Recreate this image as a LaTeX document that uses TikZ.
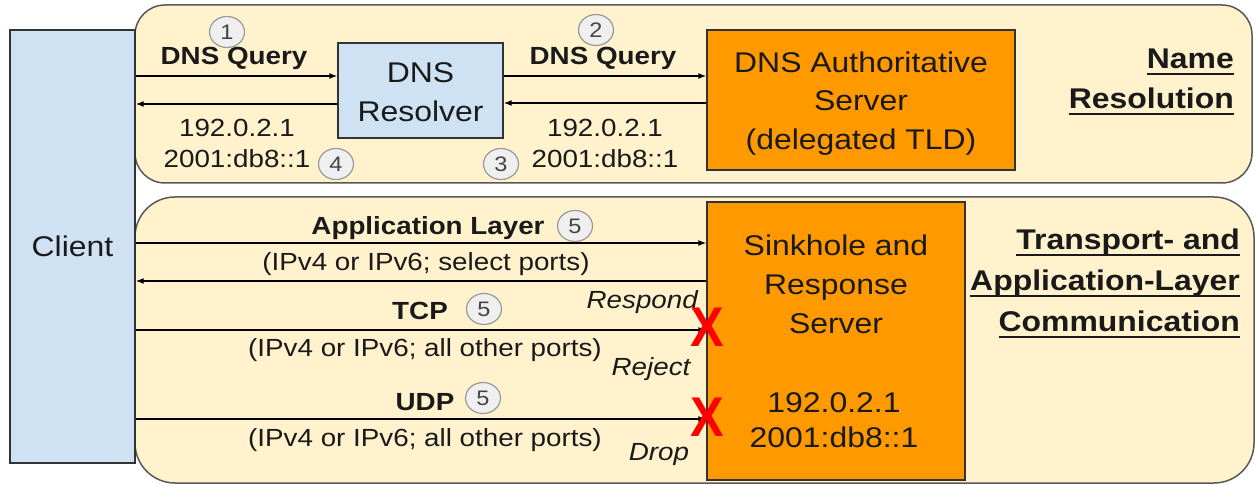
\documentclass[tikz,border=0pt]{standalone}
\usepackage{fontspec}
\setmainfont{Liberation Sans}[FakeStretch=1.12]
\newfontfamily\xmarkfont{Liberation Sans}[FakeStretch=0.9]
\newsavebox\myulbox
\newcommand\myul[1]{\sbox\myulbox{#1}\rlap{\rule[-6.4pt]{\wd\myulbox}{1.8pt}}\usebox\myulbox}
\usetikzlibrary{arrows.meta,shapes.geometric}
\definecolor{panelfill}{HTML}{FFF2CC}
\definecolor{panelline}{HTML}{595959}
\definecolor{boxline}{HTML}{333333}
\definecolor{lblue}{HTML}{CFE2F3}
\definecolor{orangefill}{HTML}{FF9900}
\definecolor{txt}{HTML}{1A1A1A}
\definecolor{numfill}{HTML}{EFEFEF}
\definecolor{numline}{HTML}{999999}
\definecolor{numtxt}{HTML}{444444}
\newcommand\boxfnt{\fontsize{28.5}{38.5}\selectfont}
\newcommand\lblfnt{\fontsize{24.8}{31.3}\selectfont}
\newcommand\numfnt{\fontsize{21}{21}\selectfont}
\newcommand\ttlfnt{\fontsize{28.5}{40}\selectfont\bfseries}
\begin{document}
\begin{tikzpicture}[x=1pt,y=-1pt,
  panel/.style={draw=panelline, fill=panelfill, line width=1.5pt},
  boxnode/.style={draw=boxline, line width=1.3pt, inner sep=0pt, font=\boxfnt, text=txt, align=center},
  boxtxt/.style={inner sep=0pt, font=\boxfnt, text=txt, align=center},
  lbl/.style={inner sep=0pt, font=\lblfnt, text=txt, align=center},
  blbl/.style={lbl, font=\lblfnt\bfseries},
  ilbl/.style={lbl, font=\lblfnt\itshape},
  ttl/.style={inner sep=0pt, font=\ttlfnt, text=txt, align=right},
  arr/.style={line width=1.4pt, -{Latex[length=8pt,width=6pt]}},
  num/.style={ellipse, draw=numline, fill=numfill, line width=1.2pt, minimum width=35pt, minimum height=31pt, inner sep=0pt, font=\numfnt, text=numtxt},
  xmark/.style={inner sep=0pt, text=red, font=\xmarkfont\bfseries\fontsize{56}{56}\selectfont}
]
\useasboundingbox (0,0) rectangle (1255,486);
\fill[white] (0,0) rectangle (1255,486);

% panels
\draw[panel, rounded corners=30pt] (135,5) rectangle (1252,183);
\draw[panel, rounded corners=40pt] (135,197) rectangle (1254,483);

% boxes
\node[boxnode, fill=lblue, minimum width=125pt, minimum height=433pt] (client) at (72.5,246.5) {Client};
\node[boxnode, fill=lblue, minimum width=165pt, minimum height=95pt] (res) at (420.5,90.5) {};
\node[boxtxt] (restxt) at (420.5,92) {DNS\\Resolver};
\node[boxnode, fill=orangefill, minimum width=308pt, minimum height=140pt] (auth) at (861,100) {};
\node[boxtxt] (authtxt) at (861,103.5) {DNS Authoritative\\Server\\(delegated TLD)};
\node[boxnode, fill=orangefill, minimum width=258pt, minimum height=278pt] (sink) at (836,341) {};
\node[boxtxt, font=\fontsize{28.5}{39}\selectfont] (sinktxt) at (836,284.5) {Sinkhole and\\Response\\Server};
\node[boxtxt, font=\fontsize{28.5}{35.5}\selectfont] (sinkip) at (834,420) {192.0.2.1\\2001:db8::1};

% arrow rows
\coordinate (ya) at (0,76);
\coordinate (yb) at (0,104);
\coordinate (yc) at (0,103);
\coordinate (yapp) at (0,243);
\coordinate (yresp) at (0,281);
\coordinate (ytcp) at (0,330);
\coordinate (yudp) at (0,419);

\draw[arr] (client.east |- ya) -- (res.west |- ya);
\draw[arr] (res.west |- yb) -- (client.east |- yb);
\draw[arr] (res.east |- ya) -- (auth.west |- ya);
\draw[arr] (auth.west |- yc) -- (res.east |- yc);
\draw[arr] (client.east |- yapp) -- (sink.west |- yapp);
\draw[arr] (sink.west |- yresp) -- (client.east |- yresp);
\draw[arr] (client.east |- ytcp) -- (sink.west |- ytcp);
\draw[arr] (client.east |- yudp) -- (sink.west |- yudp);

% labels top
\node[blbl, anchor=base] (q1) at (234,65) {DNS Query};
\node[blbl, anchor=base] (q2) at (603,65) {DNS Query};
\node[lbl] (ip1) at (237,143.5) {192.0.2.1\\2001:db8::1};
\node[lbl] (ip2) at (605,143.5) {192.0.2.1\\2001:db8::1};
\node[num] (n1) at (227,32) {1};
\node[num] (n2) at (596,30) {2};
\node[num] (n3) at (501,164) {3};
\node[num] (n4) at (336,164) {4};

% labels bottom
\node[blbl, anchor=base] (app) at (428,235) {Application Layer};
\node[lbl, anchor=base] (appsub) at (426,270) {(IPv4 or IPv6; select ports)};
\node[blbl, anchor=base] (tcp) at (420,319) {TCP};
\node[lbl, anchor=base] (tcpsub) at (425,356) {(IPv4 or IPv6; all other ports)};
\node[blbl, anchor=base] (udp) at (425,410) {UDP};
\node[lbl, anchor=base] (udpsub) at (425,446) {(IPv4 or IPv6; all other ports)};
\node[num] (n5a) at (575,226) {5};
\node[num] (n5b) at (484,309) {5};
\node[num] (n5c) at (483,398) {5};
\node[ilbl, anchor=base east] (respond) at (698,308) {Respond};
\node[ilbl, anchor=base] (reject) at (651,375) {Reject};
\node[ilbl, anchor=base] (drop) at (659,460) {Drop};

% red crosses
\node[xmark] (x1) at (707,327.5) {X};
\node[xmark] (x2) at (707,417.5) {X};

% titles
\node[ttl, anchor=north east] (nameres) at (1234,49) {\myul{Name}\\\myul{Resolution}};
\node[ttl, font=\fontsize{28.5}{41}\selectfont\bfseries, anchor=north east] (transp) at (1240,228.5) {\myul{Transport- and}\\\myul{Application-Layer}\\\myul{Communication}};
\end{tikzpicture}
\end{document}
